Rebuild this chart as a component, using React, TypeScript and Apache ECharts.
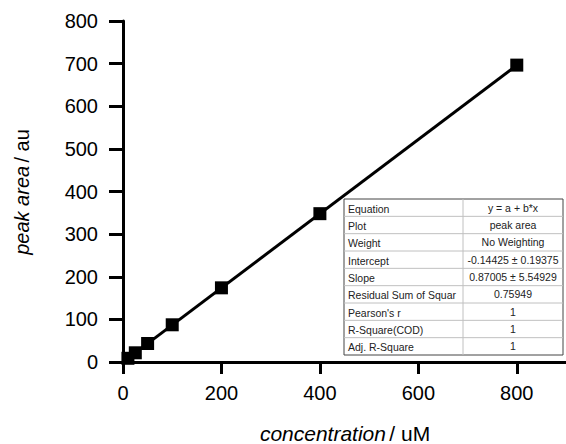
import React, { useEffect, useRef } from "react";
import * as echarts from "echarts";

const concentration = [10, 25, 50, 100, 200, 400, 800];
const peakArea = [8.7, 21.6, 43.4, 87.3, 174, 348, 696.5];
const fitLine = [
  [10, 8.56],
  [800, 695.9],
];
const xTicks = [0, 200, 400, 600, 800];
const tableLabels = [
  "Equation",
  "Plot",
  "Weight",
  "Intercept",
  "Slope",
  "Residual Sum of Squar",
  "Pearson's r",
  "R-Square(COD)",
  "Adj. R-Square",
];
const tableValues = [
  "y = a + b*x",
  "peak area",
  "No Weighting",
  "-0.14425 \u00b1 0.19375",
  "0.87005 \u00b1 5.54929",
  "0.75949",
  "1",
  "1",
  "1",
];

const FONT = "Liberation Sans, Arial, sans-serif";

export default function App() {
  const ref = useRef<HTMLDivElement>(null);
  useEffect(() => {
    if (!ref.current) return;
    const chart = echarts.init(ref.current, null, { renderer: "svg" });

    const tL = 344, tT = 199, tR = 563, tB = 355, tMid = 463;
    const rowH = (tB - tT) / tableLabels.length;
    const tableEls: any[] = [];
    tableEls.push({
      type: "rect",
      shape: { x: tL, y: tT, width: tR - tL, height: tB - tT },
      style: { fill: "#fff", stroke: "#444", lineWidth: 1 },
      z: 10,
    });
    for (let i = 1; i < tableLabels.length; i++) {
      tableEls.push({
        type: "line",
        shape: { x1: tL, y1: tT + i * rowH, x2: tR, y2: tT + i * rowH },
        style: { stroke: "#c0c0c0", lineWidth: 1 },
        z: 11,
      });
    }
    tableEls.push({
      type: "line",
      shape: { x1: tMid, y1: tT, x2: tMid, y2: tB },
      style: { stroke: "#c0c0c0", lineWidth: 1 },
      z: 11,
    });
    tableLabels.forEach((lab, i) => {
      tableEls.push({
        type: "text",
        x: tL + 4,
        y: tT + (i + 0.5) * rowH + 1,
        style: {
          text: lab,
          font: `10.5px ${FONT}`,
          fill: "#222",
          textAlign: "left",
          textVerticalAlign: "middle",
        },
        z: 12,
      });
      tableEls.push({
        type: "text",
        x: (tMid + tR) / 2,
        y: tT + (i + 0.5) * rowH,
        style: {
          text: tableValues[i],
          font: `10.5px ${FONT}`,
          fill: "#222",
          textAlign: "center",
          textVerticalAlign: "middle",
        },
        z: 12,
      });
    });

    chart.setOption({
      animation: false,
      grid: { left: 123, top: 21, right: 0, bottom: 82, containLabel: false },
      xAxis: {
        type: "value",
        min: 0,
        max: 900,
        interval: 100,
        splitLine: { show: false },
        axisLine: { show: true, onZero: false, lineStyle: { color: "#000", width: 3 } },
        axisTick: {
          show: true,
          length: 12,
          lineStyle: { color: "#000", width: 3 },
          customValues: xTicks,
        },
        axisLabel: {
          color: "#000",
          fontSize: 20,
          fontFamily: FONT,
          margin: 21,
          customValues: xTicks,
        },
      },
      yAxis: {
        type: "value",
        min: 0,
        max: 800,
        interval: 100,
        splitLine: { show: false },
        axisLine: { show: true, onZero: false, lineStyle: { color: "#000", width: 3 } },
        axisTick: { show: true, length: 14, lineStyle: { color: "#000", width: 3 } },
        axisLabel: {
          color: "#000",
          fontSize: 20,
          fontFamily: FONT,
          margin: 25,
        },
      },
      series: [
        {
          type: "line",
          data: fitLine,
          symbol: "none",
          lineStyle: { color: "#000", width: 3 },
          z: 2,
        },
        {
          type: "scatter",
          data: concentration.map((c, i) => [c, peakArea[i]]),
          symbol: "rect",
          symbolSize: 13,
          itemStyle: { color: "#000", opacity: 1 },
          z: 3,
        },
      ],
      graphic: [
        {
          type: "text",
          x: 22,
          y: 192,
          rotation: Math.PI / 2,
          style: {
            text: "{i|peak area} {n|/ au}",
            textAlign: "center",
            textVerticalAlign: "middle",
            rich: {
              i: { fontSize: 20, fontStyle: "italic", fontFamily: FONT, fill: "#000" },
              n: { fontSize: 20, fontFamily: FONT, fill: "#000" },
            },
          },
        },
        {
          type: "text",
          x: 345,
          y: 433,
          style: {
            text: "{i|concentration} {n|/ uM}",
            textAlign: "center",
            textVerticalAlign: "middle",
            rich: {
              i: { fontSize: 21, fontStyle: "italic", fontFamily: FONT, fill: "#000" },
              n: { fontSize: 21, fontFamily: FONT, fill: "#000" },
            },
          },
        },
        ...tableEls,
      ],
    });
    return () => chart.dispose();
  }, []);
  return (
    <div
      ref={ref}
      style={{ position: "fixed", left: 0, top: 0, width: 566, height: 444, background: "#fff" }}
    />
  );
}
